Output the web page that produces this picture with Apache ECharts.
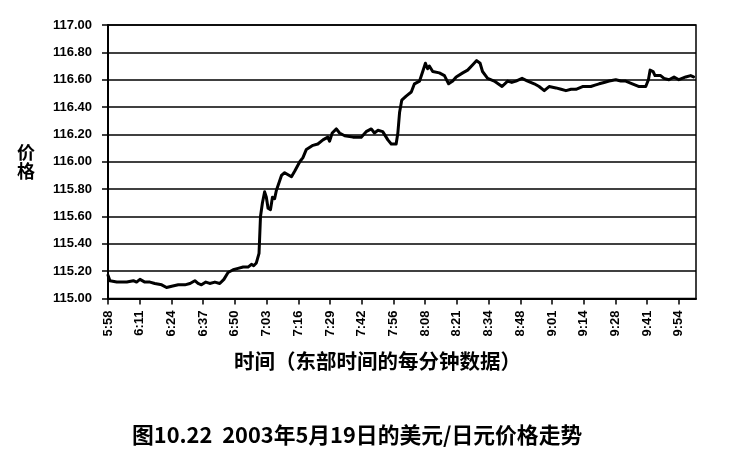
<!DOCTYPE html>
<html>
<head>
<meta charset="utf-8">
<script src="https://cdn.jsdelivr.net/npm/echarts@6/dist/echarts.min.js"></script>
<style>
  html, body { margin: 0; padding: 0; background: #fff; }
  #main { width: 733px; height: 464px; }
</style>
</head>
<body>
<div id="main"></div>
<script>
// 时间刻度 (每13分钟一个标签)
var timeLabels = ['5:58', '6:11', '6:24', '6:37', '6:50', '7:03', '7:16', '7:29', '7:42',
  '7:56', '8:08', '8:21', '8:34', '8:48', '9:01', '9:14', '9:28', '9:41', '9:54'];

// 从5:58开始的分钟序号
var minutes = [0, 0.8, 3.6, 7.7, 10.4, 11.7, 13.1, 15.1, 17.2, 19.2, 22, 24, 26.1, 28.8,
  31.5, 33.6, 35.6, 36.9, 38.3, 40.1, 41.7, 43.8, 45.8, 47.5, 49.2, 51.3, 53.3, 55.4,
  57.4, 58.8, 59.7, 60.8, 61.9,
  62.5, 63.3, 64.2, 64.9, 65.6, 66.6, 67.4, 68.3, 69, 71.1, 72.4, 75.2, 76.5, 78.6,
  79.9, 81.3, 84, 86, 88.1, 90.1, 90.8, 91.9, 93.6, 94.9, 97, 100.4, 103.8, 105.8, 107.9,
  109.2, 110.6, 112.6, 114.7, 116.1, 118.1, 118.8, 119.5,
  120.4, 122.2, 124.3, 125.6, 127.7, 129, 130.1, 131, 131.7, 133.1, 135.8, 137.9, 139.6,
  141.3, 142.7, 145.4, 147.4, 149.5, 151.1, 152.5, 153.5, 155.6, 158.3, 161.5, 163.8,
  165.5, 167.2, 169.7, 172, 174.7, 176.7, 178.8, 180.8, 183.6, 185.7, 187.7, 189.8, 191.8,
  194.5, 197.9, 199.6, 201.3, 203.3, 205.4, 208.1, 210.2, 212.2, 214.9, 217.7, 220.4,
  221.5, 222.2, 223.4, 224.2, 226.5, 227.9, 229.9, 232, 234, 236.8, 238.8, 240];

// 美元/日元价格
var prices = [115.17, 115.13, 115.12, 115.12, 115.13, 115.12, 115.14, 115.12, 115.12,
  115.11, 115.10, 115.08, 115.09, 115.10, 115.10, 115.11, 115.13, 115.11, 115.10, 115.12,
  115.11, 115.12, 115.11, 115.14, 115.19, 115.21, 115.22, 115.23, 115.23, 115.25, 115.24,
  115.26, 115.33,
  115.60, 115.70, 115.78, 115.74, 115.66, 115.65, 115.74, 115.73, 115.79, 115.90, 115.92,
  115.89, 115.93, 116.00,
  116.03, 116.09, 116.12, 116.13, 116.16, 116.18, 116.15, 116.21, 116.24, 116.21, 116.19,
  116.18, 116.18, 116.22, 116.24, 116.21, 116.23, 116.22, 116.16, 116.13, 116.13, 116.21,
  116.36,
  116.45, 116.48, 116.51, 116.57, 116.59, 116.66, 116.72, 116.68, 116.70, 116.66, 116.65,
  116.63, 116.57, 116.59, 116.62, 116.65, 116.67, 116.71, 116.74, 116.72, 116.66, 116.61,
  116.59, 116.55, 116.59, 116.58, 116.59, 116.61, 116.59, 116.57, 116.55, 116.52, 116.55,
  116.54, 116.53, 116.52, 116.53, 116.53, 116.55, 116.55, 116.56, 116.57, 116.58, 116.59,
  116.60, 116.59, 116.59, 116.57, 116.55, 116.55, 116.60, 116.67, 116.66, 116.63, 116.63,
  116.61, 116.60, 116.62, 116.60, 116.62, 116.63, 116.62];

var seriesData = [];
for (var i = 0; i < minutes.length; i++) {
  seriesData.push([minutes[i], prices[i]]);
}

var myChart = echarts.init(document.getElementById('main'));
myChart.setOption({
  animation: false,
  backgroundColor: '#fff',
  grid: {
    left: 108,
    right: 37,
    top: 25,
    bottom: 165.5,
    show: true,
    borderColor: '#000',
    borderWidth: 1.5
  },
  xAxis: {
    type: 'value',
    min: 0,
    max: 241,
    interval: 13,
    axisLine: { show: true, lineStyle: { color: '#000', width: 2 } },
    axisTick: { show: true, length: 6, lineStyle: { color: '#000', width: 1.5 } },
    splitLine: { show: false },
    axisLabel: {
      rotate: 90,
      margin: 12,
      color: '#000',
      fontSize: 13,
      fontWeight: 'bold',
      fontFamily: 'Liberation Sans',
      showMaxLabel: false,
      formatter: function (v) {
        if (v % 13 !== 0) return '';
        return timeLabels[v / 13] || '';
      }
    }
  },
  yAxis: {
    type: 'value',
    min: 115,
    max: 117,
    interval: 0.2,
    axisLine: { show: true, lineStyle: { color: '#000', width: 2 } },
    axisTick: { show: true, length: 6, lineStyle: { color: '#000', width: 1.5 } },
    splitLine: { show: true, lineStyle: { color: '#000', width: 1.6 } },
    axisLabel: {
      margin: 16,
      color: '#000',
      fontSize: 13,
      fontWeight: 'bold',
      fontFamily: 'Liberation Sans',
      formatter: function (v) { return v.toFixed(2); }
    }
  },
  graphic: [
    {
      type: 'text',
      left: 17,
      top: 143,
      style: {
        text: '价\n格',
        fontSize: 18,
        lineHeight: 19,
        fontWeight: 'bold',
        fontFamily: 'Noto Sans CJK SC',
        fill: '#000'
      }
    },
    {
      type: 'text',
      left: 234,
      top: 351,
      style: {
        text: '时间（东部时间的每分钟数据）',
        fontSize: 20.5,
        fontWeight: 'bold',
        fontFamily: 'Noto Sans CJK SC',
        fill: '#000'
      }
    },
    {
      type: 'text',
      left: 132,
      top: 424,
      style: {
        text: '图10.22  2003年5月19日的美元/日元价格走势',
        fontSize: 21.8,
        fontWeight: 'bold',
        fontFamily: 'Noto Sans CJK SC',
        fill: '#000'
      }
    }
  ],
  series: [{
    type: 'line',
    data: seriesData,
    showSymbol: false,
    lineStyle: { color: '#000', width: 3, join: 'round', cap: 'round' }
  }]
});
</script>
</body>
</html>
